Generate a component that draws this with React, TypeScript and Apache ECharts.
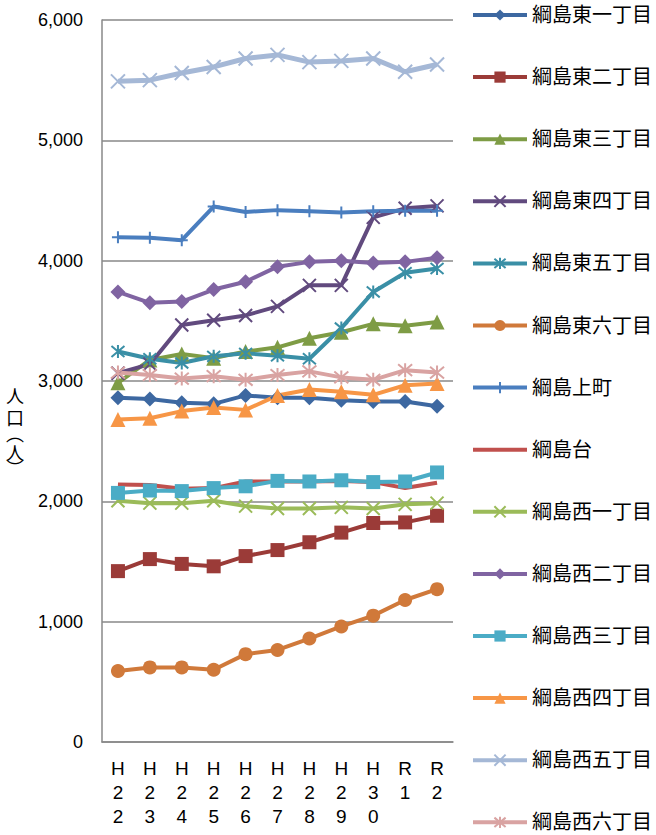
import React, { useEffect, useRef } from "react";
import * as echarts from "echarts";

const categories = ["H22", "H23", "H24", "H25", "H26", "H27", "H28", "H29", "H30", "R1", "R2"];

const seriesNames = [
  "綱島東一丁目", "綱島東二丁目", "綱島東三丁目", "綱島東四丁目", "綱島東五丁目", "綱島東六丁目",
  "綱島上町", "綱島台", "綱島西一丁目", "綱島西二丁目", "綱島西三丁目", "綱島西四丁目",
  "綱島西五丁目", "綱島西六丁目",
];

const higashi1 = [2860, 2850, 2820, 2810, 2880, 2860, 2860, 2840, 2830, 2830, 2790];
const higashi2 = [1420, 1520, 1480, 1460, 1545, 1595, 1660, 1740, 1820, 1825, 1880];
const higashi3 = [2985, 3175, 3225, 3190, 3245, 3280, 3355, 3405, 3475, 3460, 3490];
const higashi4 = [3065, 3140, 3465, 3505, 3545, 3620, 3795, 3795, 4360, 4435, 4455];
const higashi5 = [3245, 3185, 3150, 3205, 3230, 3210, 3185, 3440, 3740, 3900, 3935];
const higashi6 = [590, 620, 620, 600, 730, 765, 860, 960, 1050, 1180, 1270];
const kamimachi = [4195, 4190, 4170, 4450, 4405, 4420, 4410, 4400, 4410, 4415, 4415];
const tsunashimadai = [2140, 2135, 2105, 2110, 2165, 2165, 2165, 2170, 2160, 2110, 2155];
const nishi1 = [2005, 1985, 1985, 2005, 1960, 1940, 1940, 1950, 1940, 1975, 1985];
const nishi2 = [3740, 3650, 3660, 3760, 3825, 3950, 3990, 4000, 3980, 3990, 4025];
const nishi3 = [2070, 2090, 2085, 2110, 2125, 2170, 2165, 2175, 2160, 2165, 2240];
const nishi4 = [2680, 2690, 2750, 2780, 2760, 2880, 2930, 2910, 2885, 2965, 2980];
const nishi5 = [5490, 5500, 5560, 5610, 5680, 5710, 5650, 5660, 5680, 5570, 5630];
const nishi6 = [3070, 3050, 3020, 3040, 3010, 3050, 3080, 3030, 3010, 3090, 3070];

const yTicks = [0, 1000, 2000, 3000, 4000, 5000, 6000];

const yAxisTitleChars = ["人", "口", "︵", "人", "︶"];

const X_SYM = "path://M0,0L10,10M10,0L0,10";
const AST_SYM = "path://M0,0L10,10M10,0L0,10M5,-1L5,11";
const PLUS_SYM = "path://M5,0L5,10M0,5L10,5";

const FONT = "'Liberation Sans', 'Noto Sans CJK JP', sans-serif";

export default function App() {
  const ref = useRef<HTMLDivElement>(null);

  useEffect(() => {
    if (!ref.current) return;
    const chart = echarts.init(ref.current, undefined, { renderer: "svg" });

    const defs: Array<[string, number[], string, string, number, boolean, number]> = [
      [seriesNames[0], higashi1, "#3D68A1", "diamond", 15, false, 4],
      [seriesNames[1], higashi2, "#9B3B38", "rect", 14, false, 4],
      [seriesNames[2], higashi3, "#7E9C45", "triangle", 15, false, 4],
      [seriesNames[3], higashi4, "#614A7E", X_SYM, 13, true, 4],
      [seriesNames[4], higashi5, "#3A8FA6", AST_SYM, 13, true, 4],
      [seriesNames[5], higashi6, "#D0793A", "circle", 14, false, 4],
      [seriesNames[6], kamimachi, "#4A7EBF", PLUS_SYM, 12, true, 4],
      [seriesNames[7], tsunashimadai, "#C0504D", "none", 0, false, 4],
      [seriesNames[8], nishi1, "#9BBB59", X_SYM, 13, true, 4],
      [seriesNames[9], nishi2, "#8064A2", "diamond", 15, false, 4],
      [seriesNames[10], nishi3, "#4BACC6", "rect", 14, false, 4],
      [seriesNames[11], nishi4, "#F79646", "triangle", 15, false, 4],
      [seriesNames[12], nishi5, "#A5B8D6", X_SYM, 14, true, 5],
      [seriesNames[13], nishi6, "#D9A3A2", AST_SYM, 14, true, 4],
    ];

    const series = defs.map(([name, data, color, symbol, size, stroked, lw]) => ({
      name,
      type: "line",
      data,
      symbol,
      symbolSize: size,
      showSymbol: symbol !== "none",
      color,
      lineStyle: { color, width: lw },
      itemStyle: stroked
        ? { color, borderColor: color, borderWidth: 2 }
        : { color, borderWidth: 0 },
      emphasis: { disabled: true },
    }));

    const legendData = defs.map(([name, , , symbol]) =>
      symbol === "none" ? { name, itemStyle: { opacity: 0 } } : { name }
    );

    const titleTops = [386, 408, 424, 443, 458];

    chart.setOption({
      animation: false,
      textStyle: { fontFamily: FONT },
      grid: { left: 102, top: 20, right: 203, bottom: 93, containLabel: false },
      legend: {
        orient: "vertical",
        left: 471,
        top: 5,
        height: 830,
        padding: 0,
        itemWidth: 54,
        itemHeight: 14,
        itemGap: 42.1,
        lineStyle: { width: 4 },
        textStyle: { fontSize: 20, lineHeight: 20, color: "#000", fontFamily: FONT },
        data: legendData,
      },
      xAxis: {
        type: "category",
        data: categories,
        boundaryGap: true,
        axisLine: { lineStyle: { color: "#888888", width: 1.5 } },
        axisTick: { inside: true, length: 6, lineStyle: { color: "#888888" } },
        axisLabel: {
          interval: 0,
          margin: 14,
          fontSize: 19,
          lineHeight: 24,
          color: "#000",
          fontFamily: FONT,
          formatter: (v: string) => v.split("").join("\n"),
        },
      },
      yAxis: {
        type: "value",
        min: yTicks[0],
        max: yTicks[yTicks.length - 1],
        interval: 1000,
        axisLine: { show: true, lineStyle: { color: "#888888", width: 1.5 } },
        axisTick: { show: false },
        splitLine: { lineStyle: { color: "#888888", width: 1.5 } },
        axisLabel: {
          margin: 19,
          fontSize: 18,
          color: "#000",
          fontFamily: FONT,
          formatter: (v: number) => v.toLocaleString("en-US"),
        },
      },
      graphic: yAxisTitleChars.map((ch, i) => ({
        type: "text",
        left: 6,
        top: titleTops[i],
        style: {
          text: ch,
          fontSize: 18,
          fill: "#000",
          fontFamily: "'Noto Sans CJK JP', sans-serif",
        },
      })),
      series,
    });

    return () => chart.dispose();
  }, []);

  return (
    <div
      ref={ref}
      style={{ position: "absolute", left: 0, top: 0, width: 656, height: 835 }}
    />
  );
}
